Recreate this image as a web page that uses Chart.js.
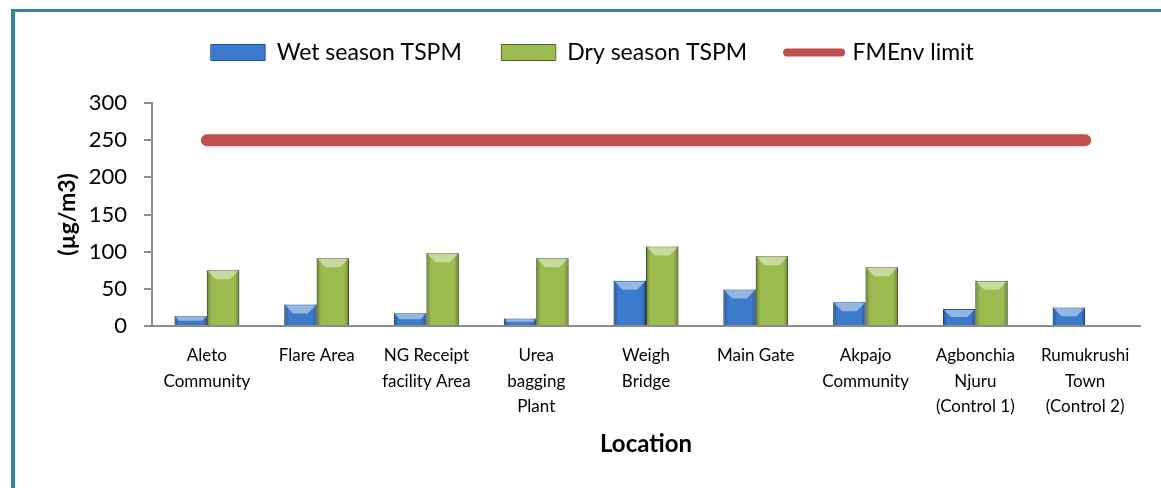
<!DOCTYPE html>
<html>
<head>
<meta charset="utf-8">
<script src="https://cdn.jsdelivr.net/npm/chart.js@4"></script>
<style>
  body { margin: 0; background: #fff; }
  #frame {
    position: absolute; left: 11px; top: 9px; right: 0; bottom: 0;
    border-left: 4px solid #31859c; border-top: 3px solid #31859c;
  }
  #wrap { position: absolute; left: 15px; top: 12px; width: 1146px; height: 476px; }
</style>
</head>
<body>
<div id="frame"></div>
<div id="wrap"><canvas id="tspmChart"></canvas></div>
<script>
// Chart values
const locations = [
    ['Aleto', 'Community'],
    'Flare Area',
    ['NG Receipt', 'facility Area'],
    ['Urea', 'bagging', 'Plant'],
    ['Weigh', 'Bridge'],
    'Main Gate',
    ['Akpajo', 'Community'],
    ['Agbonchia', 'Njuru', '(Control 1)'],
    ['Rumukrushi', 'Town', '(Control 2)']
];
const wetSeason = [13, 29, 17, 10, 61, 49, 32, 23, 25];
const drySeason = [75, 91, 98, 91, 107, 94, 79, 61, null];
const fmenvLimit = [250, 250, 250, 250, 250, 250, 250, 250, 250];
const yTicks = [0, 50, 100, 150, 200, 250, 300];

const FONT = 'Lato, "Open Sans", sans-serif';

// Adds the bevelled look on top of each bar
const bevelPlugin = {
    id: 'bevel',
    afterDatasetsDraw(chart) {
        const ctx = chart.ctx;
        [0, 1].forEach(i => {
            const meta = chart.getDatasetMeta(i);
            meta.data.forEach(el => {
                const p = el.getProps(['x', 'y', 'base', 'width'], true);
                const h = p.base - p.y;
                if (!isFinite(h) || h <= 0) return;
                const l = p.x - p.width / 2, r = p.x + p.width / 2;
                ctx.save();
                const g = ctx.createLinearGradient(l, 0, r, 0);
                g.addColorStop(0, 'rgba(0,0,0,0.30)');
                g.addColorStop(0.14, 'rgba(0,0,0,0)');
                g.addColorStop(0.86, 'rgba(0,0,0,0)');
                g.addColorStop(1, 'rgba(0,0,0,0.32)');
                ctx.fillStyle = g;
                ctx.fillRect(l, p.y, p.width, h);
                const b = Math.min(9, h / 2);
                ctx.beginPath();
                ctx.moveTo(l + 1, p.y + 1);
                ctx.lineTo(r - 1, p.y + 1);
                ctx.lineTo(r - b, p.y + b);
                ctx.lineTo(l + b, p.y + b);
                ctx.closePath();
                ctx.fillStyle = 'rgba(255,255,255,0.45)';
                ctx.fill();
                ctx.restore();
            });
        });
    }
};

// Fix the legend block height and move its row to where it sits in the picture
const legendHeightPlugin = {
    id: 'legendHeight',
    beforeUpdate(chart) {
        const lg = chart.legend;
        if (lg && !lg._patched) {
            const fit = lg.fit;
            lg.fit = function () { fit.call(this); this.height = 91; };
            const draw = lg.draw;
            lg.draw = function () {
                this.ctx.save();
                this.ctx.translate(15, -11);
                draw.call(this);
                this.ctx.restore();
            };
            lg._patched = true;
        }
    }
};

const ctx = document.getElementById('tspmChart').getContext('2d');
new Chart(ctx, {
    type: 'bar',
    data: {
        labels: locations,
        datasets: [{
            label: 'Wet season TSPM',
            data: wetSeason,
            backgroundColor: '#3c7bcb',
            borderColor: '#1d55a8',
            borderWidth: 1,
            order: 2
        }, {
            label: 'Dry season TSPM',
            data: drySeason,
            backgroundColor: '#9bbb4f',
            borderColor: '#55692a',
            borderWidth: 1,
            order: 2
        }, {
            type: 'line',
            label: 'FMEnv limit',
            data: fmenvLimit,
            borderColor: '#c0504d',
            backgroundColor: '#c0504d',
            borderWidth: 12,
            borderCapStyle: 'round',
            pointRadius: 0,
            order: 1
        }]
    },
    options: {
        responsive: true,
        maintainAspectRatio: false,
        animation: false,
        layout: { padding: { left: 0, right: 21, top: 0, bottom: 29 } },
        datasets: {
            bar: { barPercentage: 1.0, categoryPercentage: 0.59 }
        },
        plugins: {
            tooltip: { enabled: false },
            legend: {
                display: true,
                position: 'top',
                labels: {
                    usePointStyle: true,
                    pointStyleWidth: 54,
                    boxHeight: 16,
                    padding: 40,
                    color: '#000',
                    font: { family: FONT, size: 23 },
                    generateLabels(chart) {
                        return chart.data.datasets.map((ds, i) => ({
                            text: ds.label,
                            fillStyle: ds.backgroundColor,
                            strokeStyle: ds.borderColor,
                            lineWidth: i === 2 ? 8 : 1,
                            lineCap: 'round',
                            pointStyle: i === 2 ? 'line' : 'rect',
                            fontColor: '#000',
                            hidden: false,
                            datasetIndex: i
                        }));
                    }
                }
            }
        },
        scales: {
            x: {
                grid: { display: false },
                border: { display: true, color: '#8c8c8c', width: 2 },
                ticks: {
                    color: '#000',
                    padding: 9,
                    maxRotation: 0,
                    autoSkip: false,
                    font: { family: FONT, size: 17, lineHeight: 1.5 }
                },
                title: {
                    display: true,
                    text: 'Location',
                    color: '#000',
                    font: { family: FONT, size: 24, weight: 'bold' },
                    padding: 0
                },
                afterFit(scale) { scale.height = 133; }
            },
            y: {
                min: 0,
                max: 300,
                afterBuildTicks(scale) { scale.ticks = yTicks.map(v => ({ value: v })); },
                grid: { drawOnChartArea: false, drawTicks: true, tickLength: 8, color: '#8c8c8c', lineWidth: 2 },
                border: { display: true, color: '#8c8c8c', width: 2 },
                ticks: {
                    color: '#000',
                    padding: 17,
                    font: { family: FONT, size: 22 }
                },
                title: {
                    display: true,
                    text: '(µg/m3)',
                    color: '#000',
                    font: { family: FONT, size: 23, weight: 'bold' },
                    padding: { top: 39, bottom: 0 }
                },
                afterFit(scale) { scale.width = 137; }
            }
        }
    },
    plugins: [bevelPlugin, legendHeightPlugin]
});
</script>
</body>
</html>
